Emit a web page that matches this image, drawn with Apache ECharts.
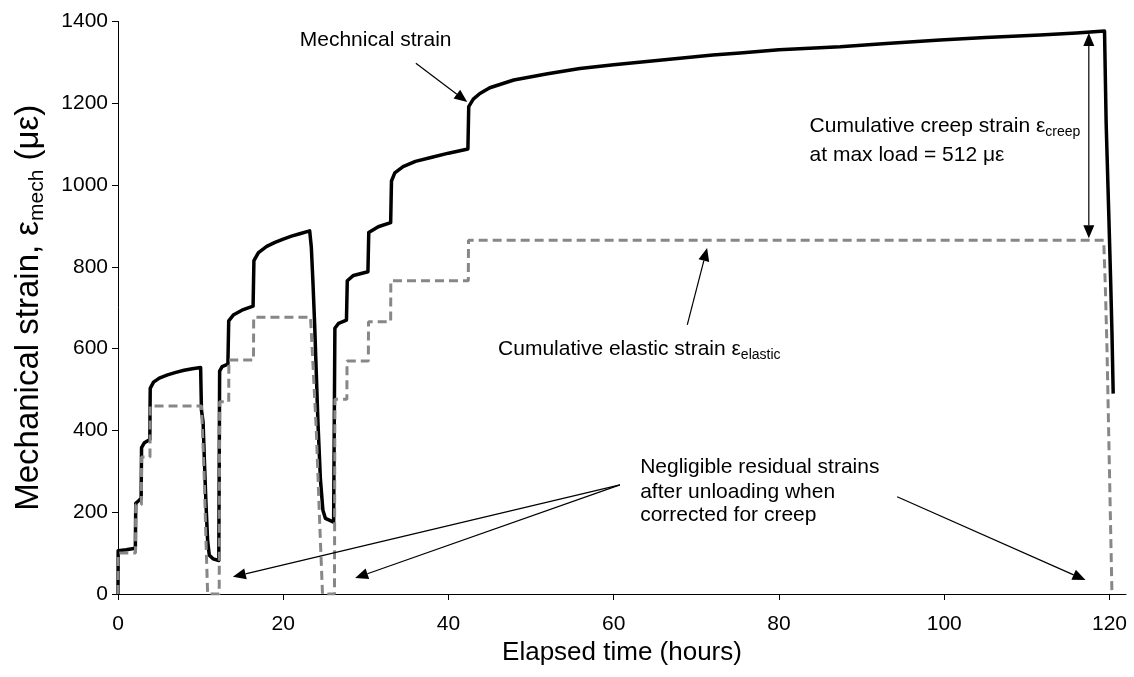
<!DOCTYPE html>
<html>
<head>
<meta charset="utf-8">
<script src="https://cdn.jsdelivr.net/npm/echarts@6/dist/echarts.min.js"></script>
<style>
  html, body { margin: 0; padding: 0; background: #fff; }
  #chart { width: 1134px; height: 677px; }
</style>
</head>
<body>
<div id="chart"></div>
<script>
// Mechanical strain record (hours, microstrain)
const mechHours = [0, 0.02, 1.0, 2.1, 2.15, 2.5, 2.8, 2.85, 3.2, 3.85, 3.9, 4.3, 5.0, 6.0, 7.0, 8.0, 9.0, 10.0,
  10.1, 10.3, 10.45, 10.65, 10.85, 11.05, 11.5, 12.2,
  12.3, 12.6, 13.3, 13.4, 14.0, 15.0, 16.35, 16.45, 17.0, 18.0, 19.0, 20.0, 21.0, 22.0, 23.2,
  23.4, 23.6, 23.8, 24.0, 24.2, 24.5, 24.8, 25.1, 26.1,
  26.25, 26.7, 27.65, 27.75, 28.5, 30.25, 30.35, 31.5, 33.0, 33.1, 33.5, 34.5, 36.0, 38.0, 40.0, 42.35,
  42.45, 43.0, 43.8, 45.0, 47.9, 52.0, 55.9, 60.0, 64.0, 68.0, 72.0, 75.3, 80.0, 87.4, 93.0, 99.5, 105.0, 111.6, 116.0, 119.4,
  119.6, 119.9, 120.15, 120.3, 120.45];
const mechStrain = [0, 106, 108, 112, 222, 228, 234, 358, 370, 378, 503, 518, 528, 536, 542, 547, 551, 554,
  450, 420, 330, 220, 130, 95, 86, 82,
  545, 556, 562, 668, 683, 694, 704, 815, 835, 850, 860, 868, 875, 881, 888,
  848, 760, 660, 540, 420, 280, 205, 185, 176,
  650, 662, 670, 766, 779, 788, 884, 898, 908, 1010, 1030, 1045, 1058, 1068, 1078, 1088,
  1192, 1210, 1224, 1238, 1257, 1272, 1285, 1294, 1302, 1310, 1318, 1323, 1331, 1338, 1346, 1355, 1361, 1367, 1372, 1377,
  1150, 940, 760, 640, 490];

// Cumulative elastic strain (hours, microstrain)
const elasticHours = [0, 0.02, 2.12, 2.14, 2.83, 2.85, 3.87, 3.89, 10.1, 10.4, 10.65, 10.85,
  12.25, 12.3, 13.4, 13.42, 16.4, 16.42, 23.3, 23.6, 24.0, 24.4, 24.75,
  26.2, 26.25, 27.7, 27.72, 30.3, 30.32, 33.0, 33.02, 42.4, 42.42, 119.3, 119.5, 119.7, 120.0, 120.3];
const elasticStrain = [0, 100, 100, 218, 218, 335, 335, 460, 460, 310, 130, 0,
  0, 470, 470, 572, 572, 677, 677, 560, 400, 180, 0,
  0, 476, 476, 570, 570, 666, 666, 766, 766, 865, 865, 751, 600, 300, 0];

const xTicks = [0, 20, 40, 60, 80, 100, 120];
const yTicks = [0, 200, 400, 600, 800, 1000, 1200, 1400];

const FONT = '"Liberation Sans", Arial, sans-serif';
const zip = (xs, ys) => xs.map((x, i) => [x, ys[i]]);

const chart = echarts.init(document.getElementById('chart'), null, { renderer: 'canvas' });

chart.setOption({
  animation: false,
  backgroundColor: '#fff',
  textStyle: { fontFamily: FONT, color: '#000' },
  grid: { left: 118, right: 8, top: 21.5, bottom: 83, containLabel: false },
  xAxis: {
    type: 'value', min: 0, max: 122, interval: 20,
    axisLine: { show: true, onZero: false, lineStyle: { color: '#000', width: 1 } },
    axisTick: { show: true, length: 6, customValues: xTicks, lineStyle: { color: '#000', width: 1 } },
    axisLabel: { customValues: xTicks, color: '#000', fontSize: 21, fontFamily: FONT, margin: 20,
      formatter: v => String(v) },
    splitLine: { show: false },
    name: 'Elapsed time (hours)', nameLocation: 'middle', nameGap: 45,
    nameTextStyle: { color: '#000', fontSize: 26, fontFamily: FONT }
  },
  yAxis: {
    type: 'value', min: 0, max: 1400, interval: 200,
    axisLine: { show: true, lineStyle: { color: '#000', width: 1 } },
    axisTick: { show: true, length: 6, customValues: yTicks, lineStyle: { color: '#000', width: 1 } },
    axisLabel: { customValues: yTicks, color: '#000', fontSize: 21, fontFamily: FONT, margin: 10,
      formatter: v => String(v) },
    splitLine: { show: false },
    name: 'Mechanical strain, ε{s|mech} (με)', nameLocation: 'middle', nameGap: 70, nameRotate: 90,
    nameTextStyle: {
      color: '#000', fontSize: 33, fontFamily: FONT, lineHeight: 38,
      rich: { s: { fontSize: 21, fontFamily: FONT, color: '#000', verticalAlign: 'bottom', lineHeight: 21 } }
    }
  },
  series: [
    {
      name: 'Mechanical strain', type: 'line', data: zip(mechHours, mechStrain),
      symbol: 'none', showSymbol: false, z: 2,
      lineStyle: { color: '#000', width: 3.5, join: 'round' }
    },
    {
      name: 'Cumulative elastic strain', type: 'line', data: zip(elasticHours, elasticStrain),
      symbol: 'none', showSymbol: false, z: 3,
      lineStyle: { color: '#878787', width: 3, type: [9, 5] }
    }
  ]
});

// Annotations, placed in data units (hours, microstrain)
const notes = [
  { at: [22.0, 1355], text: 'Mechnical strain' },
  { at: [83.7, 1143], text: 'Cumulative creep strain ε{s|creep}' },
  { at: [83.7, 1074], text: 'at max load = 512 με' },
  { at: [46.0, 599], text: 'Cumulative elastic strain ε{s|elastic}' },
  { at: [63.2, 311], text: 'Negligible residual strains' },
  { at: [63.2, 250], text: 'after unloading when' },
  { at: [63.2, 193], text: 'corrected for creep' }
];
const arrows = [
  { from: [36.05, 1298], to: [42.27, 1203] },
  { from: [117.5, 1120], to: [117.5, 1372] },
  { from: [117.5, 1120], to: [117.5, 870] },
  { from: [68.9, 658], to: [71.3, 846] },
  { from: [60.75, 267], to: [13.9, 42] },
  { from: [60.75, 267], to: [28.7, 39] },
  { from: [94.3, 238], to: [117.1, 34] }
];

const px = p => chart.convertToPixel({ gridIndex: 0 }, p);
const graphics = [];
notes.forEach(n => {
  const [x, y] = px(n.at);
  graphics.push({
    type: 'text', x, y, z: 10,
    style: {
      text: n.text, fill: '#000', fontSize: 21, fontFamily: FONT,
      textAlign: 'left', textVerticalAlign: 'middle', lineHeight: 26,
      rich: { s: { fontSize: 14, fontFamily: FONT, fill: '#000', verticalAlign: 'bottom', lineHeight: 14 } }
    }
  });
});
const HEAD_LEN = 13, HEAD_HALF = 5.5;
arrows.forEach(a => {
  const [x1, y1] = px(a.from);
  const [x2, y2] = px(a.to);
  const dx = x2 - x1, dy = y2 - y1, L = Math.hypot(dx, dy);
  const ux = dx / L, uy = dy / L;
  const bx = x2 - ux * HEAD_LEN, by = y2 - uy * HEAD_LEN;
  graphics.push({
    type: 'line', z: 10,
    shape: { x1, y1, x2: bx, y2: by },
    style: { stroke: '#000', lineWidth: 1.2 }
  });
  graphics.push({
    type: 'polygon', z: 10,
    shape: { points: [[x2, y2], [bx - uy * HEAD_HALF, by + ux * HEAD_HALF], [bx + uy * HEAD_HALF, by - ux * HEAD_HALF]] },
    style: { fill: '#000' }
  });
});
chart.setOption({ graphic: graphics });
</script>
</body>
</html>
